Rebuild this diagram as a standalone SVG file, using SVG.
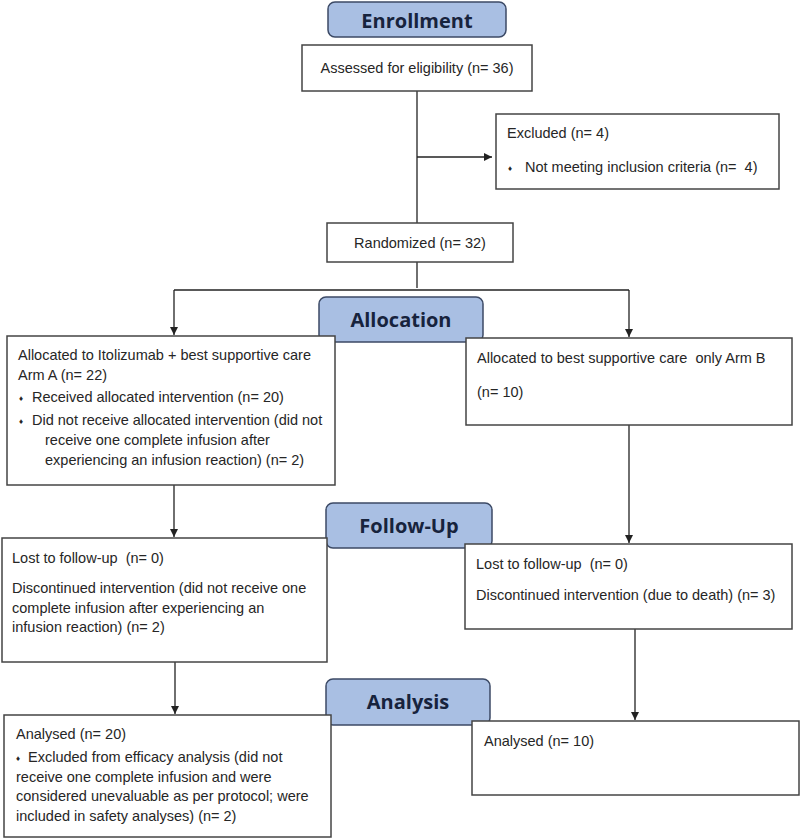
<svg xmlns="http://www.w3.org/2000/svg" width="800" height="839" viewBox="0 0 800 839">
<defs>
<marker id="ah" viewBox="0 0 10 10" refX="10" refY="5" markerWidth="8" markerHeight="8" markerUnits="userSpaceOnUse" orient="auto">
<path d="M0,0 L10,5 L0,10 z" fill="#222"/>
</marker>
<style>
.box{fill:#fff;stroke:#444;stroke-width:1.5}
.hdr{fill:#a9bfe3;stroke:#3c4a66;stroke-width:1.5}
.ht{font-family:"Open Sans","Noto Sans",sans-serif;font-weight:bold;font-size:20px;fill:#17233d;text-anchor:middle}
.t{font-family:"Liberation Sans",Arial,sans-serif;font-size:14.5px;fill:#262626;white-space:pre}
.b{font-size:8px}
.ln{fill:none;stroke:#222;stroke-width:1.3}
</style>
</defs>
<rect width="800" height="839" fill="#fff"/>
<g id="connectors">
<path class="ln" d="M417,91 V223"/>
<path class="ln" d="M417,157 H492" marker-end="url(#ah)"/>
<path class="ln" d="M417,262 V288"/>
<path class="ln" d="M174,290 H629"/>
<path class="ln" d="M174,290 V335" marker-end="url(#ah)"/>
<path class="ln" d="M629,290 V337" marker-end="url(#ah)"/>
<path class="ln" d="M174,485 V537" marker-end="url(#ah)"/>
<path class="ln" d="M629,425 V543" marker-end="url(#ah)"/>
<path class="ln" d="M175,662 V714" marker-end="url(#ah)"/>
<path class="ln" d="M635,629 V720" marker-end="url(#ah)"/>
</g>
<g id="enrollment">
<rect class="hdr" x="328" y="2" width="178" height="35" rx="7"/>
<text class="ht" x="417" y="28">Enrollment</text>
</g>
<g id="assessed">
<rect class="box" x="302" y="45" width="230" height="46"/>
<text class="t" x="417" y="73" text-anchor="middle">Assessed for eligibility (n= 36)</text>
</g>
<g id="excluded">
<rect class="box" x="496" y="114" width="283" height="75"/>
<text class="t" x="507" y="138">Excluded (n= 4)</text>
<text class="t b" x="508" y="171">♦</text>
<text class="t" x="525" y="172">Not meeting inclusion criteria (n=  4)</text>
</g>
<g id="randomized">
<rect class="box" x="327" y="223" width="186" height="39"/>
<text class="t" x="420" y="248" text-anchor="middle">Randomized (n= 32)</text>
</g>
<g id="allocation">
<rect class="hdr" x="319" y="297" width="164" height="45" rx="7"/>
<text class="ht" x="401" y="327">Allocation</text>
</g>
<g id="armA">
<rect class="box" x="7" y="336" width="328" height="149"/>
<text class="t" x="18" y="360">Allocated to Itolizumab + best supportive care</text>
<text class="t" x="18" y="380">Arm A (n= 22)</text>
<text class="t b" x="19" y="401">♦</text>
<text class="t" x="32" y="402">Received allocated intervention (n= 20)</text>
<text class="t b" x="19" y="424">♦</text>
<text class="t" x="32" y="425">Did not receive allocated intervention (did not</text>
<text class="t" x="45" y="445">receive one complete infusion after</text>
<text class="t" x="45" y="465">experiencing an infusion reaction) (n= 2)</text>
</g>
<g id="armB">
<rect class="box" x="466" y="338" width="326" height="87"/>
<text class="t" x="477" y="363">Allocated to best supportive care  only Arm B</text>
<text class="t" x="477" y="397">(n= 10)</text>
</g>
<g id="followup">
<rect class="hdr" x="326" y="503" width="166" height="45" rx="7"/>
<text class="ht" x="409" y="533">Follow-Up</text>
</g>
<g id="followA">
<rect class="box" x="2" y="538" width="325" height="124"/>
<text class="t" x="12" y="563">Lost to follow-up  (n= 0)</text>
<text class="t" x="12" y="593">Discontinued intervention (did not receive one</text>
<text class="t" x="12" y="613">complete infusion after experiencing an</text>
<text class="t" x="12" y="632">infusion reaction) (n= 2)</text>
</g>
<g id="followB">
<rect class="box" x="465" y="544" width="327" height="85"/>
<text class="t" x="476" y="569">Lost to follow-up  (n= 0)</text>
<text class="t" x="476" y="600">Discontinued intervention (due to death) (n= 3)</text>
</g>
<g id="analysis">
<rect class="hdr" x="326" y="679" width="164" height="46" rx="7"/>
<text class="ht" x="408" y="709">Analysis</text>
</g>
<g id="analysisA">
<rect class="box" x="4" y="715" width="327" height="122"/>
<text class="t" x="16" y="739">Analysed (n= 20)</text>
<text class="t b" x="16" y="761">♦</text>
<text class="t" x="28" y="762">Excluded from efficacy analysis (did not</text>
<text class="t" x="16" y="782">receive one complete infusion and were</text>
<text class="t" x="16" y="801">considered unevaluable as per protocol; were</text>
<text class="t" x="16" y="821">included in safety analyses) (n= 2)</text>
</g>
<g id="analysisB">
<rect class="box" x="472" y="721" width="327" height="74"/>
<text class="t" x="484" y="746">Analysed (n= 10)</text>
</g>
</svg>
